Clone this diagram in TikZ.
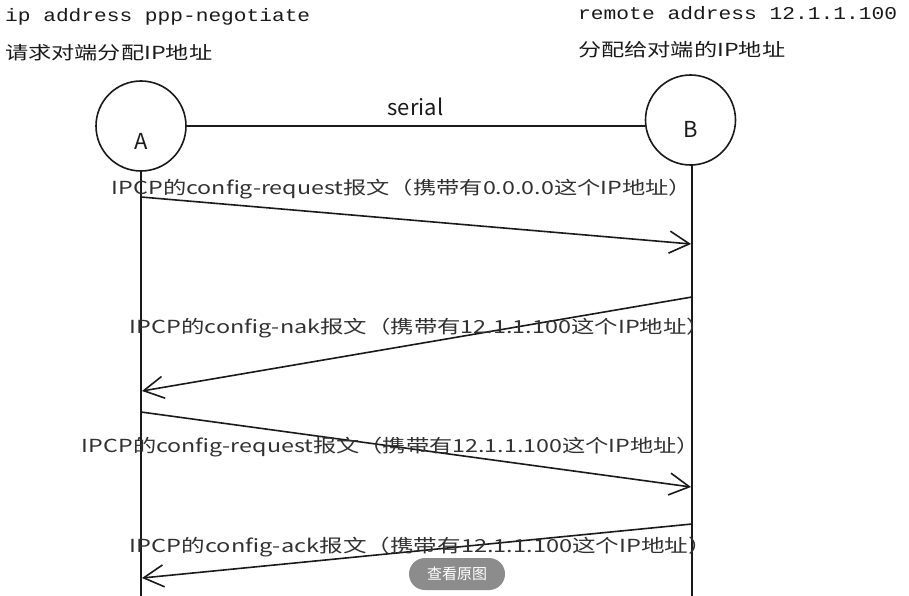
\documentclass[tikz,border=0pt]{standalone}
\usepackage{fontspec}
\usepackage{graphicx}
\setmainfont{Noto Sans CJK SC}
\newfontfamily\monof{Liberation Mono}
\usetikzlibrary{arrows.meta}
\newcommand\fitw[2]{\resizebox{#1}{\height}{#2}}
\definecolor{ink}{HTML}{1A1A1A}
\definecolor{btn}{HTML}{8C8C8C}
\tikzset{
  ln/.style={draw=ink, line width=1.6pt},
  msg/.style={ln, -{Straight Barb[length=20pt,width=22pt,line width=1.6pt]}},
  peer/.style={circle, draw=ink, line width=1.6pt, minimum size=90pt, inner sep=0pt},
  peerlbl/.style={font=\fontsize{22}{22}\selectfont, text=ink, inner sep=0pt},
  lbl/.style={font=\fontsize{18}{18}\selectfont, text=ink!90, inner sep=0pt},
  cfg/.style={font=\monof\fontsize{18}{18}\selectfont, text=ink, inner sep=0pt, anchor=west},
  note/.style={font=\fontsize{18}{18}\selectfont, text=ink, inner sep=0pt, anchor=west},
  button/.style={fill=btn, rounded corners=16pt, minimum width=96pt, minimum height=32pt, text=white, font=\fontsize{15}{15}\selectfont, inner sep=0pt}
}
\begin{document}
\begin{tikzpicture}[x=1pt,y=-1pt]
\useasboundingbox (0,0) rectangle (909,596);
\fill[white] (0,0) rectangle (909,596);
% config texts
\node[cfg] (cA) at (5,17) {\fitw{305pt}{ip address ppp-negotiate}};
\node[note] (nA) at (5,53) {\fitw{207pt}{请求对端分配IP地址}};
\node[cfg] (cB) at (578,13) {\fitw{319pt}{remote address 12.1.1.100}};
\node[note] (nB) at (578,50) {\fitw{207pt}{分配给对端的IP地址}};
% peers
\node[peer] (A) at (141,126) {};
\node[peer] (B) at (690.5,120) {};
\node[peerlbl] (Al) at (141,141) {A};
\node[peerlbl] (Bl) at (690.5,129) {B};
\coordinate (Aser) at (186,126);
\coordinate (Bser) at (645,126);
\draw[ln] (Aser) -- (Bser) node[midway, above=9pt, font=\fontsize{22}{22}\selectfont, text=ink, inner sep=0pt] (ser) {serial};
% lifelines
\coordinate (Atop) at (141,170);
\coordinate (Abot) at (141,600);
\coordinate (Btop) at (692,165);
\coordinate (Bbot) at (692,600);
\draw[ln] (Atop) -- (Abot);
\draw[ln] (Btop) -- (Bbot);
% messages
\coordinate (m1s) at (141,197);
\coordinate (m1e) at (691,244);
\coordinate (m2s) at (692,297);
\coordinate (m2e) at (142,391);
\coordinate (m3s) at (141,412);
\coordinate (m3e) at (691,487);
\coordinate (m4s) at (692,524);
\coordinate (m4e) at (142,578);
\draw[msg] (m1s) -- (m1e);
\draw[msg] (m2s) -- (m2e);
\draw[msg] (m3s) -- (m3e);
\draw[msg] (m4s) -- (m4e);
% labels
\node[lbl] (l1) at (402,189) {\fitw{580pt}{IPCP的config-request报文（携带有0.0.0.0这个IP地址）}};
\node[lbl] (l2) at (420,328) {\fitw{580pt}{IPCP的config-nak报文（携带有12.1.1.100这个IP地址）}};
\node[lbl] (l3) at (391,447) {\fitw{618pt}{IPCP的config-request报文（携带有12.1.1.100这个IP地址）}};
\node[lbl] (l4) at (421,547) {\fitw{582pt}{IPCP的config-ack报文（携带有12.1.1.100这个IP地址）}};
% overlay button
\node[button] (btn) at (457,574) {查看原图};
\end{tikzpicture}
\end{document}
